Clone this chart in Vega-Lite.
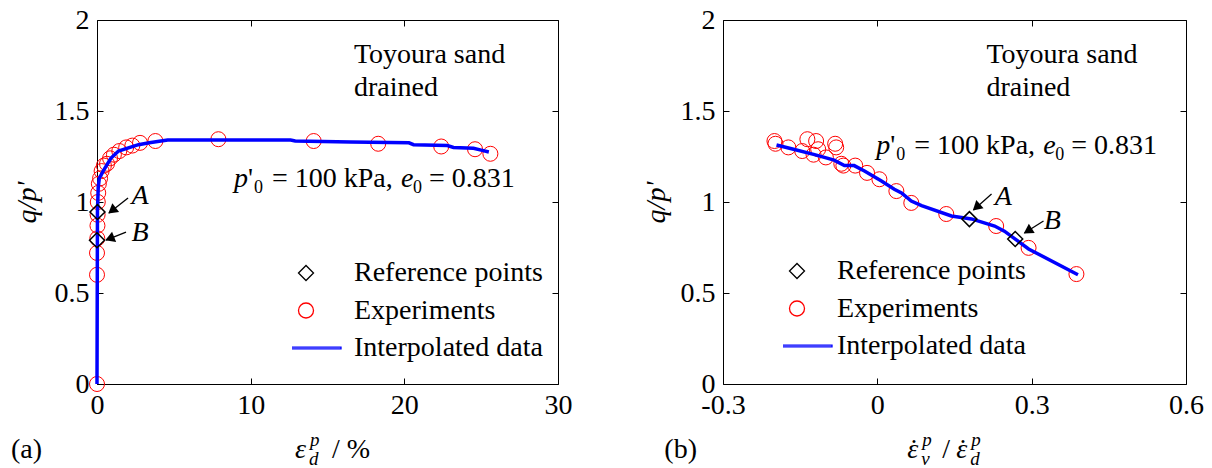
{
  "$schema": "https://vega.github.io/schema/vega-lite/v6.json",
  "autosize": {"type": "pad"},
  "padding": {"left": 10, "top": 5, "right": 5, "bottom": 5},
  "background": "white",
  "spacing": 165,
  "bounds": "flush",
  "config": {
    "font": "'Liberation Serif', 'Times New Roman', Times, serif",
    "view": {"stroke": "black", "strokeWidth": 1},
    "axis": {"domain": false, "grid": false, "tickColor": "black", "tickWidth": 1, "tickSize": -6, "labelPadding": 13, "labelFont": "'Liberation Serif', 'Times New Roman', Times, serif", "labelFontSize": 28, "labelColor": "black", "labelFlush": false, "labelOverlap": false, "labelBound": false, "titleFont": "'Liberation Serif', 'Times New Roman', Times, serif", "titleFontSize": 28, "titleColor": "black", "titleFontWeight": "normal"},
    "axisLeft": {"labelPadding": 14},
    "legend": {"labelFont": "'Liberation Serif', 'Times New Roman', Times, serif", "labelFontSize": 28, "labelColor": "black", "labelLimit": 600, "symbolSize": 225, "symbolStrokeWidth": 1.3, "clipHeight": 30, "rowPadding": 7.5, "padding": 0, "offset": 0},
    "text": {"font": "'Liberation Serif', 'Times New Roman', Times, serif", "fontSize": 28, "color": "black"}
  },
  "datasets": {
    "expA": [{"x":0,"y":0},{"x":0,"y":0.6},{"x":0,"y":0.72},{"x":0.02,"y":0.8},{"x":0.03,"y":0.87},{"x":0.04,"y":0.93},{"x":0.05,"y":1.0},{"x":0.08,"y":1.05},{"x":0.12,"y":1.1},{"x":0.2,"y":1.13},{"x":0.3,"y":1.17},{"x":0.45,"y":1.2},{"x":0.65,"y":1.21},{"x":0.85,"y":1.24},{"x":1.1,"y":1.26},{"x":1.45,"y":1.28},{"x":1.9,"y":1.3},{"x":2.3,"y":1.31},{"x":2.8,"y":1.325},{"x":3.8,"y":1.335},{"x":7.9,"y":1.345},{"x":14.1,"y":1.335},{"x":18.3,"y":1.32},{"x":22.4,"y":1.305},{"x":24.6,"y":1.29},{"x":25.6,"y":1.265}],
    "lineA": [{"x":0,"y":0},{"x":0.03,"y":0.95},{"x":0.08,"y":1.08},{"x":0.15,"y":1.13},{"x":0.4,"y":1.17},{"x":0.9,"y":1.24},{"x":1.4,"y":1.28},{"x":2.7,"y":1.315},{"x":3.4,"y":1.325},{"x":4.6,"y":1.34},{"x":12.6,"y":1.34},{"x":12.9,"y":1.335},{"x":16.5,"y":1.33},{"x":20.3,"y":1.325},{"x":20.6,"y":1.315},{"x":22.8,"y":1.31},{"x":23.2,"y":1.3},{"x":24.5,"y":1.295},{"x":25,"y":1.285},{"x":25.5,"y":1.275}],
    "refA": [{"point":"A","x":0.03,"y":0.945},{"point":"B","x":0.0,"y":0.79}],
    "arrA": [{"label":"A","x":2.02,"y":1.022,"x2":0.78,"y2":0.94,"hx":0.976,"hy":0.953,"lx":2.8,"ly":1.033},{"label":"B","x":1.887,"y":0.835,"x2":0.586,"y2":0.791,"hx":0.826,"hy":0.799,"lx":2.8,"ly":0.83}],
    "notesA": [{"x":16.72,"y":1.764,"t":"Toyoura sand\ndrained"}],
    "paramA": [{"x":8.91,"y":1.082}],
    "xtitleA": [{"x":12.88,"y":-0.407}],
    "tagA": [{"x":-5.6,"y":-0.407,"t":"(a)"}],
    "expB": [{"x":-0.2,"y":1.335},{"x":-0.198,"y":1.32},{"x":-0.173,"y":1.3},{"x":-0.146,"y":1.28},{"x":-0.136,"y":1.345},{"x":-0.124,"y":1.26},{"x":-0.119,"y":1.335},{"x":-0.115,"y":1.29},{"x":-0.1,"y":1.245},{"x":-0.082,"y":1.32},{"x":-0.08,"y":1.3},{"x":-0.07,"y":1.21},{"x":-0.066,"y":1.2},{"x":-0.043,"y":1.2},{"x":-0.02,"y":1.16},{"x":0.004,"y":1.125},{"x":0.037,"y":1.06},{"x":0.066,"y":0.995},{"x":0.134,"y":0.934},{"x":0.231,"y":0.868},{"x":0.294,"y":0.748},{"x":0.387,"y":0.604}],
    "lineB": [{"x":-0.196,"y":1.313},{"x":-0.163,"y":1.29},{"x":-0.122,"y":1.26},{"x":-0.084,"y":1.23},{"x":-0.064,"y":1.2},{"x":-0.045,"y":1.2},{"x":-0.025,"y":1.17},{"x":0.008,"y":1.115},{"x":0.033,"y":1.07},{"x":0.047,"y":1.05},{"x":0.066,"y":1.005},{"x":0.086,"y":0.98},{"x":0.144,"y":0.923},{"x":0.183,"y":0.907},{"x":0.228,"y":0.868},{"x":0.247,"y":0.84},{"x":0.294,"y":0.742},{"x":0.39,"y":0.6}],
    "refB": [{"point":"A","x":0.179,"y":0.906},{"point":"B","x":0.268,"y":0.797}],
    "arrB": [{"label":"A","x":0.222,"y":1.044,"x2":0.187,"y2":0.956,"hx":0.1925,"hy":0.971,"lx":0.245,"ly":1.027},{"label":"B","x":0.323,"y":0.896,"x2":0.286,"y2":0.83,"hx":0.2924,"hy":0.841,"lx":0.34,"ly":0.896}],
    "notesB": [{"x":0.212,"y":1.764,"t":"Toyoura sand\ndrained"}],
    "paramB": [{"x":-0.002,"y":1.264}],
    "xtitleB": [{"x":0.0583,"y":-0.407}],
    "tagB": [{"x":-0.414,"y":-0.407,"t":"(b)"}]
  },
  "resolve": {"scale": {"color": "independent", "shape": "independent"}, "legend": {"color": "independent", "shape": "independent"}},
  "hconcat": [
    {
      "width": 461,
      "height": 364,
      "resolve": {"axis": {"x": "independent", "y": "independent"}},
      "layer": [
        {
          "data": {"name": "expA"},
          "mark": {"type": "point", "filled": false, "size": 225, "strokeWidth": 1, "opacity": 1},
          "encoding": {
            "x": {"field": "x", "type": "quantitative", "scale": {"domain": [0, 30], "nice": false, "zero": false}, "axis": {"orient": "bottom", "values": [0, 10, 20, 30], "format": "d", "title": null}},
            "y": {"field": "y", "type": "quantitative", "scale": {"domain": [0, 2], "nice": false, "zero": false}, "axis": {"orient": "left", "values": [0, 0.5, 1, 1.5, 2], "format": "~g", "title": "q/p'", "titleFontStyle": "italic", "titlePadding": 13}},
            "color": {"datum": "Experiments", "type": "nominal", "scale": {"domain": ["Reference points", "Experiments", "Interpolated data"], "range": ["black", "red", "#0000ff"]}},
            "shape": {"datum": "Experiments", "type": "nominal", "scale": {"domain": ["Reference points", "Experiments", "Interpolated data"], "range": ["diamond", "circle", "M-4.667,-0.12H4.667V0.12H-4.667Z"]}}
          }
        },
        {
          "data": {"name": "lineA"},
          "mark": {"type": "line", "strokeWidth": 3.5},
          "encoding": {
            "x": {"field": "x", "type": "quantitative", "scale": {"domain": [0, 30], "nice": false, "zero": false}, "axis": {"orient": "top", "values": [0, 10, 20, 30], "labels": false, "title": null}},
            "y": {"field": "y", "type": "quantitative", "scale": {"domain": [0, 2], "nice": false, "zero": false}, "axis": {"orient": "right", "values": [0, 0.5, 1, 1.5, 2], "labels": false, "title": null}},
            "color": {"datum": "Interpolated data", "type": "nominal", "scale": {"domain": ["Reference points", "Experiments", "Interpolated data"], "range": ["black", "red", "#0000ff"]}}
          }
        },
        {
          "data": {"name": "refA"},
          "mark": {"type": "point", "filled": false, "size": 225, "strokeWidth": 1.5, "opacity": 1},
          "encoding": {
            "x": {"field": "x", "type": "quantitative", "scale": {"domain": [0, 30], "nice": false, "zero": false}, "axis": null},
            "y": {"field": "y", "type": "quantitative", "scale": {"domain": [0, 2], "nice": false, "zero": false}, "axis": null},
            "color": {"datum": "Reference points", "type": "nominal", "scale": {"domain": ["Reference points", "Experiments", "Interpolated data"], "range": ["black", "red", "#0000ff"]}, "legend": {"title": null, "orient": "none", "legendX": 195, "legendY": 238, "labelOffset": 34}},
            "shape": {"datum": "Reference points", "type": "nominal", "scale": {"domain": ["Reference points", "Experiments", "Interpolated data"], "range": ["diamond", "circle", "M-4.667,-0.12H4.667V0.12H-4.667Z"]}, "legend": {"title": null, "orient": "none", "legendX": 195, "legendY": 238, "labelOffset": 34}}
          }
        },
        {
          "data": {"name": "arrA"},
          "mark": {"type": "rule", "color": "black", "strokeWidth": 1.3},
          "encoding": {
            "x": {"field": "x", "type": "quantitative", "scale": {"domain": [0, 30], "nice": false, "zero": false}, "axis": null},
            "y": {"field": "y", "type": "quantitative", "scale": {"domain": [0, 2], "nice": false, "zero": false}, "axis": null},
            "x2": {"field": "x2"},
            "y2": {"field": "y2"}
          }
        },
        {
          "data": {"name": "arrA"},
          "transform": [{"filter": "datum.label === 'A'"}],
          "mark": {"type": "point", "shape": "triangle-up", "filled": true, "color": "black", "opacity": 1, "size": 120, "angle": 231.7},
          "encoding": {
            "x": {"field": "hx", "type": "quantitative", "scale": {"domain": [0, 30], "nice": false, "zero": false}, "axis": null},
            "y": {"field": "hy", "type": "quantitative", "scale": {"domain": [0, 2], "nice": false, "zero": false}, "axis": null}
          }
        },
        {
          "data": {"name": "arrA"},
          "transform": [{"filter": "datum.label === 'B'"}],
          "mark": {"type": "point", "shape": "triangle-up", "filled": true, "color": "black", "opacity": 1, "size": 120, "angle": 248.2},
          "encoding": {
            "x": {"field": "hx", "type": "quantitative", "scale": {"domain": [0, 30], "nice": false, "zero": false}, "axis": null},
            "y": {"field": "hy", "type": "quantitative", "scale": {"domain": [0, 2], "nice": false, "zero": false}, "axis": null}
          }
        },
        {
          "data": {"name": "arrA"},
          "mark": {"type": "text", "fontStyle": "italic", "align": "center", "baseline": "middle"},
          "encoding": {
            "x": {"field": "lx", "type": "quantitative", "scale": {"domain": [0, 30], "nice": false, "zero": false}, "axis": null},
            "y": {"field": "ly", "type": "quantitative", "scale": {"domain": [0, 2], "nice": false, "zero": false}, "axis": null},
            "text": {"field": "label"}
          }
        },
        {
          "data": {"name": "notesA"},
          "mark": {"type": "text", "align": "left", "baseline": "alphabetic", "lineBreak": "\n", "lineHeight": 33},
          "encoding": {
            "x": {"field": "x", "type": "quantitative", "scale": {"domain": [0, 30], "nice": false, "zero": false}, "axis": null},
            "y": {"field": "y", "type": "quantitative", "scale": {"domain": [0, 2], "nice": false, "zero": false}, "axis": null},
            "text": {"field": "t"}
          }
        },
        {
          "data": {"name": "paramA"},
          "encoding": {
            "x": {"field": "x", "type": "quantitative", "scale": {"domain": [0, 30], "nice": false, "zero": false}, "axis": null},
            "y": {"field": "y", "type": "quantitative", "scale": {"domain": [0, 2], "nice": false, "zero": false}, "axis": null}
          },
          "layer": [
            {"mark": {"type": "text", "align": "left", "baseline": "alphabetic", "fontStyle": "italic", "text": "p", "dx": 0}},
            {"mark": {"type": "text", "align": "left", "baseline": "alphabetic", "text": "'", "dx": 14}},
            {"mark": {"type": "text", "align": "left", "baseline": "alphabetic", "text": "0", "dx": 20, "dy": 6, "fontSize": 18}},
            {"mark": {"type": "text", "align": "left", "baseline": "alphabetic", "text": "= 100 kPa,", "dx": 38}},
            {"mark": {"type": "text", "align": "left", "baseline": "alphabetic", "fontStyle": "italic", "text": "e", "dx": 167}},
            {"mark": {"type": "text", "align": "left", "baseline": "alphabetic", "text": "0", "dx": 179, "dy": 6, "fontSize": 18}},
            {"mark": {"type": "text", "align": "left", "baseline": "alphabetic", "text": "= 0.831", "dx": 195}}
          ]
        },
        {
          "data": {"name": "xtitleA"},
          "encoding": {
            "x": {"field": "x", "type": "quantitative", "scale": {"domain": [0, 30], "nice": false, "zero": false}, "axis": null},
            "y": {"field": "y", "type": "quantitative", "scale": {"domain": [0, 2], "nice": false, "zero": false}, "axis": null}
          },
          "layer": [
            {"mark": {"type": "text", "align": "left", "baseline": "alphabetic", "fontStyle": "italic", "text": "ε", "dx": 0}},
            {"mark": {"type": "text", "align": "left", "baseline": "alphabetic", "fontStyle": "italic", "text": "p", "dx": 15, "dy": -12, "fontSize": 19}},
            {"mark": {"type": "text", "align": "left", "baseline": "alphabetic", "fontStyle": "italic", "text": "d", "dx": 14, "dy": 7, "fontSize": 19}},
            {"mark": {"type": "text", "align": "left", "baseline": "alphabetic", "text": "/ %", "dx": 37}}
          ]
        },
        {
          "data": {"name": "tagA"},
          "mark": {"type": "text", "align": "left", "baseline": "alphabetic"},
          "encoding": {
            "x": {"field": "x", "type": "quantitative", "scale": {"domain": [0, 30], "nice": false, "zero": false}, "axis": null},
            "y": {"field": "y", "type": "quantitative", "scale": {"domain": [0, 2], "nice": false, "zero": false}, "axis": null},
            "text": {"field": "t"}
          }
        }
      ]
    },
    {
      "width": 463,
      "height": 364,
      "resolve": {"axis": {"x": "independent", "y": "independent"}},
      "layer": [
        {
          "data": {"name": "expB"},
          "mark": {"type": "point", "filled": false, "size": 225, "strokeWidth": 1, "opacity": 1},
          "encoding": {
            "x": {"field": "x", "type": "quantitative", "scale": {"domain": [-0.3, 0.6], "nice": false, "zero": false}, "axis": {"orient": "bottom", "values": [-0.3, 0, 0.3, 0.6], "labelExpr": "datum.value == 0 ? '0' : (datum.value < 0 ? '-' + format(-datum.value, '.1f') : format(datum.value, '.1f'))", "title": null}},
            "y": {"field": "y", "type": "quantitative", "scale": {"domain": [0, 2], "nice": false, "zero": false}, "axis": {"orient": "left", "values": [0, 0.5, 1, 1.5, 2], "format": "~g", "title": "q/p'", "titleFontStyle": "italic", "titlePadding": 10}},
            "color": {"datum": "Experiments", "type": "nominal", "scale": {"domain": ["Reference points", "Experiments", "Interpolated data"], "range": ["black", "red", "#0000ff"]}},
            "shape": {"datum": "Experiments", "type": "nominal", "scale": {"domain": ["Reference points", "Experiments", "Interpolated data"], "range": ["diamond", "circle", "M-4.667,-0.12H4.667V0.12H-4.667Z"]}}
          }
        },
        {
          "data": {"name": "lineB"},
          "mark": {"type": "line", "strokeWidth": 3.5},
          "encoding": {
            "x": {"field": "x", "type": "quantitative", "scale": {"domain": [-0.3, 0.6], "nice": false, "zero": false}, "axis": {"orient": "top", "values": [-0.3, 0, 0.3, 0.6], "labels": false, "title": null}},
            "y": {"field": "y", "type": "quantitative", "scale": {"domain": [0, 2], "nice": false, "zero": false}, "axis": {"orient": "right", "values": [0, 0.5, 1, 1.5, 2], "labels": false, "title": null}},
            "color": {"datum": "Interpolated data", "type": "nominal", "scale": {"domain": ["Reference points", "Experiments", "Interpolated data"], "range": ["black", "red", "#0000ff"]}}
          }
        },
        {
          "data": {"name": "refB"},
          "mark": {"type": "point", "filled": false, "size": 225, "strokeWidth": 1.5, "opacity": 1},
          "encoding": {
            "x": {"field": "x", "type": "quantitative", "scale": {"domain": [-0.3, 0.6], "nice": false, "zero": false}, "axis": null},
            "y": {"field": "y", "type": "quantitative", "scale": {"domain": [0, 2], "nice": false, "zero": false}, "axis": null},
            "color": {"datum": "Reference points", "type": "nominal", "scale": {"domain": ["Reference points", "Experiments", "Interpolated data"], "range": ["black", "red", "#0000ff"]}, "legend": {"title": null, "orient": "none", "legendX": 60, "legendY": 236, "labelOffset": 26}},
            "shape": {"datum": "Reference points", "type": "nominal", "scale": {"domain": ["Reference points", "Experiments", "Interpolated data"], "range": ["diamond", "circle", "M-4.667,-0.12H4.667V0.12H-4.667Z"]}, "legend": {"title": null, "orient": "none", "legendX": 60, "legendY": 236, "labelOffset": 26}}
          }
        },
        {
          "data": {"name": "arrB"},
          "mark": {"type": "rule", "color": "black", "strokeWidth": 1.3},
          "encoding": {
            "x": {"field": "x", "type": "quantitative", "scale": {"domain": [-0.3, 0.6], "nice": false, "zero": false}, "axis": null},
            "y": {"field": "y", "type": "quantitative", "scale": {"domain": [0, 2], "nice": false, "zero": false}, "axis": null},
            "x2": {"field": "x2"},
            "y2": {"field": "y2"}
          }
        },
        {
          "data": {"name": "arrB"},
          "transform": [{"filter": "datum.label === 'A'"}],
          "mark": {"type": "point", "shape": "triangle-up", "filled": true, "color": "black", "opacity": 1, "size": 120, "angle": 228.4},
          "encoding": {
            "x": {"field": "hx", "type": "quantitative", "scale": {"domain": [-0.3, 0.6], "nice": false, "zero": false}, "axis": null},
            "y": {"field": "hy", "type": "quantitative", "scale": {"domain": [0, 2], "nice": false, "zero": false}, "axis": null}
          }
        },
        {
          "data": {"name": "arrB"},
          "transform": [{"filter": "datum.label === 'B'"}],
          "mark": {"type": "point", "shape": "triangle-up", "filled": true, "color": "black", "opacity": 1, "size": 120, "angle": 237.7},
          "encoding": {
            "x": {"field": "hx", "type": "quantitative", "scale": {"domain": [-0.3, 0.6], "nice": false, "zero": false}, "axis": null},
            "y": {"field": "hy", "type": "quantitative", "scale": {"domain": [0, 2], "nice": false, "zero": false}, "axis": null}
          }
        },
        {
          "data": {"name": "arrB"},
          "mark": {"type": "text", "fontStyle": "italic", "align": "center", "baseline": "middle"},
          "encoding": {
            "x": {"field": "lx", "type": "quantitative", "scale": {"domain": [-0.3, 0.6], "nice": false, "zero": false}, "axis": null},
            "y": {"field": "ly", "type": "quantitative", "scale": {"domain": [0, 2], "nice": false, "zero": false}, "axis": null},
            "text": {"field": "label"}
          }
        },
        {
          "data": {"name": "notesB"},
          "mark": {"type": "text", "align": "left", "baseline": "alphabetic", "lineBreak": "\n", "lineHeight": 33},
          "encoding": {
            "x": {"field": "x", "type": "quantitative", "scale": {"domain": [-0.3, 0.6], "nice": false, "zero": false}, "axis": null},
            "y": {"field": "y", "type": "quantitative", "scale": {"domain": [0, 2], "nice": false, "zero": false}, "axis": null},
            "text": {"field": "t"}
          }
        },
        {
          "data": {"name": "paramB"},
          "encoding": {
            "x": {"field": "x", "type": "quantitative", "scale": {"domain": [-0.3, 0.6], "nice": false, "zero": false}, "axis": null},
            "y": {"field": "y", "type": "quantitative", "scale": {"domain": [0, 2], "nice": false, "zero": false}, "axis": null}
          },
          "layer": [
            {"mark": {"type": "text", "align": "left", "baseline": "alphabetic", "fontStyle": "italic", "text": "p", "dx": 0}},
            {"mark": {"type": "text", "align": "left", "baseline": "alphabetic", "text": "'", "dx": 14}},
            {"mark": {"type": "text", "align": "left", "baseline": "alphabetic", "text": "0", "dx": 20, "dy": 6, "fontSize": 18}},
            {"mark": {"type": "text", "align": "left", "baseline": "alphabetic", "text": "= 100 kPa,", "dx": 38}},
            {"mark": {"type": "text", "align": "left", "baseline": "alphabetic", "fontStyle": "italic", "text": "e", "dx": 167}},
            {"mark": {"type": "text", "align": "left", "baseline": "alphabetic", "text": "0", "dx": 179, "dy": 6, "fontSize": 18}},
            {"mark": {"type": "text", "align": "left", "baseline": "alphabetic", "text": "= 0.831", "dx": 195}}
          ]
        },
        {
          "data": {"name": "xtitleB"},
          "encoding": {
            "x": {"field": "x", "type": "quantitative", "scale": {"domain": [-0.3, 0.6], "nice": false, "zero": false}, "axis": null},
            "y": {"field": "y", "type": "quantitative", "scale": {"domain": [0, 2], "nice": false, "zero": false}, "axis": null}
          },
          "layer": [
            {"mark": {"type": "text", "align": "left", "baseline": "alphabetic", "fontStyle": "italic", "text": "ε", "dx": 0}},
            {"mark": {"type": "text", "align": "left", "baseline": "alphabetic", "text": "˙", "dx": 2}},
            {"mark": {"type": "text", "align": "left", "baseline": "alphabetic", "fontStyle": "italic", "text": "p", "dx": 15, "dy": -12, "fontSize": 19}},
            {"mark": {"type": "text", "align": "left", "baseline": "alphabetic", "fontStyle": "italic", "text": "v", "dx": 14, "dy": 7, "fontSize": 19}},
            {"mark": {"type": "text", "align": "left", "baseline": "alphabetic", "text": "/", "dx": 35}},
            {"mark": {"type": "text", "align": "left", "baseline": "alphabetic", "fontStyle": "italic", "text": "ε", "dx": 49}},
            {"mark": {"type": "text", "align": "left", "baseline": "alphabetic", "text": "˙", "dx": 51}},
            {"mark": {"type": "text", "align": "left", "baseline": "alphabetic", "fontStyle": "italic", "text": "p", "dx": 64, "dy": -12, "fontSize": 19}},
            {"mark": {"type": "text", "align": "left", "baseline": "alphabetic", "fontStyle": "italic", "text": "d", "dx": 63, "dy": 7, "fontSize": 19}}
          ]
        },
        {
          "data": {"name": "tagB"},
          "mark": {"type": "text", "align": "left", "baseline": "alphabetic"},
          "encoding": {
            "x": {"field": "x", "type": "quantitative", "scale": {"domain": [-0.3, 0.6], "nice": false, "zero": false}, "axis": null},
            "y": {"field": "y", "type": "quantitative", "scale": {"domain": [0, 2], "nice": false, "zero": false}, "axis": null},
            "text": {"field": "t"}
          }
        }
      ]
    }
  ]
}
